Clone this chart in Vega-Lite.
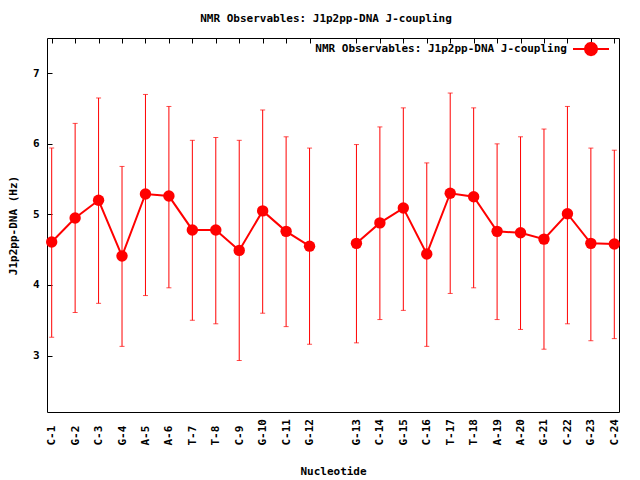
{
  "$schema": "https://vega.github.io/schema/vega-lite/v6.json",
  "autosize": {"type": "none"},
  "padding": {"left": 47, "top": 38, "right": 21, "bottom": 68},
  "width": 572,
  "height": 374,
  "background": "white",
  "title": {
    "text": "NMR Observables: J1p2pp-DNA J-coupling",
    "anchor": "middle",
    "frame": "group",
    "offset": 6,
    "dx": -7,
    "font": "DejaVu Sans Mono",
    "fontSize": 11,
    "fontWeight": "bold",
    "color": "black"
  },
  "config": {
    "view": {"stroke": "black", "strokeWidth": 1, "fill": "transparent"},
    "axis": {
      "grid": true,
      "zindex": 1,
      "gridColor": "black",
      "gridOpacity": 1,
      "gridWidth": 1,
      "gridDash": [5, 2000],
      "domain": false,
      "ticks": false,
      "tickSize": 0,
      "labelFont": "DejaVu Sans Mono",
      "labelFontWeight": "bold",
      "labelFontSize": 11,
      "labelColor": "black",
      "titleFont": "DejaVu Sans Mono",
      "titleFontWeight": "bold",
      "titleFontSize": 11,
      "titleColor": "black"
    }
  },
  "data": {
    "values": [
      {"nuc": "C-1", "seg": 1, "j": 4.61, "lo": 3.26, "hi": 5.94},
      {"nuc": "G-2", "seg": 1, "j": 4.95, "lo": 3.61, "hi": 6.29},
      {"nuc": "C-3", "seg": 1, "j": 5.20, "lo": 3.74, "hi": 6.65},
      {"nuc": "G-4", "seg": 1, "j": 4.41, "lo": 3.13, "hi": 5.68},
      {"nuc": "A-5", "seg": 1, "j": 5.29, "lo": 3.85, "hi": 6.70},
      {"nuc": "A-6", "seg": 1, "j": 5.26, "lo": 3.96, "hi": 6.53},
      {"nuc": "T-7", "seg": 1, "j": 4.78, "lo": 3.50, "hi": 6.05},
      {"nuc": "T-8", "seg": 1, "j": 4.78, "lo": 3.45, "hi": 6.09},
      {"nuc": "C-9", "seg": 1, "j": 4.49, "lo": 2.93, "hi": 6.05},
      {"nuc": "G-10", "seg": 1, "j": 5.05, "lo": 3.60, "hi": 6.48},
      {"nuc": "C-11", "seg": 1, "j": 4.76, "lo": 3.41, "hi": 6.10},
      {"nuc": "G-12", "seg": 1, "j": 4.55, "lo": 3.16, "hi": 5.94},
      {"nuc": "G-13", "seg": 2, "j": 4.59, "lo": 3.18, "hi": 5.99},
      {"nuc": "C-14", "seg": 2, "j": 4.88, "lo": 3.51, "hi": 6.24},
      {"nuc": "G-15", "seg": 2, "j": 5.09, "lo": 3.64, "hi": 6.51},
      {"nuc": "C-16", "seg": 2, "j": 4.44, "lo": 3.13, "hi": 5.73},
      {"nuc": "T-17", "seg": 2, "j": 5.30, "lo": 3.88, "hi": 6.72},
      {"nuc": "T-18", "seg": 2, "j": 5.25, "lo": 3.96, "hi": 6.51},
      {"nuc": "A-19", "seg": 2, "j": 4.76, "lo": 3.51, "hi": 6.00},
      {"nuc": "A-20", "seg": 2, "j": 4.74, "lo": 3.37, "hi": 6.10},
      {"nuc": "G-21", "seg": 2, "j": 4.65, "lo": 3.09, "hi": 6.21},
      {"nuc": "C-22", "seg": 2, "j": 5.01, "lo": 3.45, "hi": 6.53},
      {"nuc": "G-23", "seg": 2, "j": 4.59, "lo": 3.21, "hi": 5.94},
      {"nuc": "C-24", "seg": 2, "j": 4.58, "lo": 3.24, "hi": 5.91}
    ]
  },
  "encoding": {
    "x": {
      "field": "nuc",
      "type": "ordinal",
      "axis": null,
      "scale": {
        "type": "point",
        "padding": 0.2,
        "domain": ["C-1", "G-2", "C-3", "G-4", "A-5", "A-6", "T-7", "T-8", "C-9", "G-10", "C-11", "G-12", " ",
                   "G-13", "C-14", "G-15", "C-16", "T-17", "T-18", "A-19", "A-20", "G-21", "C-22", "G-23", "C-24"]
      }
    }
  },
  "layer": [
    {
      "mark": {"type": "rule", "color": "#ff0000", "strokeWidth": 1},
      "encoding": {
        "x": {
          "field": "nuc",
          "type": "ordinal",
          "axis": {
            "orient": "bottom",
            "values": ["C-1", "G-2", "C-3", "G-4", "A-5", "A-6", "T-7", "T-8", "C-9", "G-10", "C-11", "G-12",
                       "G-13", "C-14", "G-15", "C-16", "T-17", "T-18", "A-19", "A-20", "G-21", "C-22", "G-23", "C-24"],
            "labelAngle": -90,
            "labelAlign": "left",
            "labelBaseline": "middle",
            "labelPadding": 33,
            "title": "Nucleotide",
            "titlePadding": 20
          }
        },
        "y": {
          "field": "lo",
          "type": "quantitative",
          "scale": {"domain": [2.2, 7.5], "nice": false, "zero": false},
          "axis": {
            "orient": "left",
            "values": [3, 4, 5, 6, 7],
            "labelPadding": 8,
            "title": "J1p2pp-DNA (Hz)",
            "titlePadding": 14
          }
        },
        "y2": {"field": "hi"}
      }
    },
    {
      "mark": {"type": "tick", "orient": "horizontal", "color": "#ff0000", "size": 5, "thickness": 1},
      "encoding": {
        "x": {
          "field": "nuc",
          "type": "ordinal",
          "axis": {
            "orient": "top",
            "values": ["C-1", "G-2", "C-3", "G-4", "A-5", "A-6", "T-7", "T-8", "C-9", "G-10", "C-11", "G-12",
                       "G-13", "C-14", "G-15", "C-16", "T-17", "T-18", "A-19", "A-20", "G-21", "C-22", "G-23", "C-24"],
            "labels": false,
            "title": null
          }
        },
        "y": {
          "field": "lo",
          "type": "quantitative",
          "axis": {"orient": "right", "values": [3, 4, 5, 6, 7], "labels": false, "title": null}
        }
      }
    },
    {
      "mark": {"type": "tick", "orient": "horizontal", "color": "#ff0000", "size": 5, "thickness": 1},
      "encoding": {
        "y": {"field": "hi", "type": "quantitative", "axis": null}
      }
    },
    {
      "mark": {"type": "line", "color": "#ff0000", "strokeWidth": 2},
      "encoding": {
        "y": {"field": "j", "type": "quantitative", "axis": null},
        "detail": {"field": "seg", "type": "nominal"},
        "stroke": {
          "datum": "NMR Observables: J1p2pp-DNA J-coupling",
          "type": "nominal",
          "scale": {"range": ["#ff0000"]},
          "legend": {
            "orient": "none",
            "legendX": 525,
            "legendY": -8,
            "title": null,
            "padding": 0,
            "symbolSize": 1296,
            "symbolType": "M-1,0H1M0.34,0L0.294,0.17L0.17,0.294L0,0.34L-0.17,0.294L-0.294,0.17L-0.34,0L-0.294,-0.17L-0.17,-0.294L0,-0.34L0.17,-0.294L0.294,-0.17Z",
            "symbolFillColor": "#ff0000",
            "symbolStrokeColor": "#ff0000",
            "symbolStrokeWidth": 2,
            "labelAlign": "right",
            "labelBaseline": "middle",
            "labelOffset": -43,
            "labelLimit": 400,
            "labelFont": "DejaVu Sans Mono",
            "labelFontWeight": "bold",
            "labelFontSize": 11,
            "labelColor": "black",
            "encode": {
              "symbols": {
                "update": {
                  "fill": {"value": "#ff0000"},
                  "stroke": {"value": "#ff0000"},
                  "strokeWidth": {"value": 2},
                  "opacity": {"value": 1}
                }
              }
            }
          }
        }
      }
    },
    {
      "mark": {"type": "point", "filled": true, "size": 130, "opacity": 1, "color": "#ff0000"},
      "encoding": {
        "y": {"field": "j", "type": "quantitative", "axis": null}
      }
    }
  ],
  "resolve": {"axis": {"x": "independent", "y": "independent"}}
}
